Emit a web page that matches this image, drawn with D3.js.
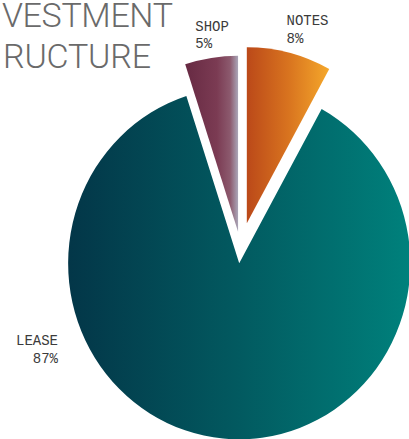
<!DOCTYPE html>
<html>
<head>
<meta charset="utf-8">
<script src="https://cdn.jsdelivr.net/npm/d3@7"></script>
<style>
  html, body { margin: 0; padding: 0; background: #ffffff; overflow: hidden; }
  svg { display: block; }
</style>
</head>
<body>
<svg id="chart" width="409" height="439"></svg>
<script>
// Investment structure: share of each asset type (percent), clockwise from 12 o'clock
const categories = ["NOTES", "LEASE", "SHOP"];
const shares = [8, 87, 5];
const shareLabels = ["8%", "87%", "5%"];
const titleLines = ["VESTMENT", "RUCTURE"];

// Styling / layout
const gradientStops = {
  NOTES: [[0, "#bb4919"], [0.5, "#d8731f"], [1, "#f5a82b"]],
  LEASE: [[0, "#033648"], [0.5, "#025a60"], [1, "#00817c"]],
  SHOP:  [[0, "#672a43"], [0.6, "#7b3b53"], [0.85, "#8c5a6e"], [1, "#aaa6b8"]]
};
const explode = { NOTES: 25.7, LEASE: 15.2, SHOP: 16.7 };
const labelLayout = {
  NOTES: { x: 286.5, y: 25, anchor: "start" },
  SHOP:  { x: 195.3, y: 30.7, anchor: "start" },
  LEASE: { x: 58, y: 345, anchor: "end" }
};
const titleLayout = [
  { x: 2, y: 26.7, width: 171 },
  { x: 3, y: 68.3, width: 148 }
];
const pieCenter = { x: 240.6, y: 248.2 };
const radius = 176;
const xSquash = 0.972;
const lineGap = 17.5;

const svg = d3.select("#chart");
const defs = svg.append("defs");

const data = categories.map((c, i) => ({ name: c, value: shares[i], label: shareLabels[i] }));

const pie = d3.pie().sort(null).value(d => d.value).startAngle(0).endAngle(2 * Math.PI);
const arc = d3.arc().innerRadius(0).outerRadius(radius);
const arcs = pie(data);

// horizontal gradient per slice, spanning the slice's own bounding box
arcs.forEach(a => {
  const g = defs.append("linearGradient")
    .attr("id", "grad-" + a.data.name)
    .attr("x1", "0%").attr("y1", "0%").attr("x2", "100%").attr("y2", "0%");
  gradientStops[a.data.name].forEach(([o, c]) => {
    g.append("stop").attr("offset", o).attr("stop-color", c);
  });
});

const pieG = svg.append("g")
  .attr("transform", `translate(${pieCenter.x},${pieCenter.y}) scale(${xSquash},1)`);

pieG.selectAll("path.slice")
  .data(arcs)
  .join("path")
  .attr("class", "slice")
  .attr("d", arc)
  .attr("fill", d => `url(#grad-${d.data.name})`)
  .attr("transform", d => {
    const mid = (d.startAngle + d.endAngle) / 2;
    const o = explode[d.data.name];
    return `translate(${Math.sin(mid) * o},${-Math.cos(mid) * o})`;
  });

// slice labels: name over share
const labelG = svg.append("g")
  .attr("font-family", "'Liberation Mono', 'DejaVu Sans Mono', monospace")
  .attr("font-size", 14)
  .attr("fill", "#3b3b3b");

arcs.forEach(a => {
  const L = labelLayout[a.data.name];
  const t = labelG.append("text")
    .attr("text-anchor", L.anchor);
  t.append("tspan").attr("x", L.x).attr("y", L.y).text(a.data.name);
  t.append("tspan").attr("x", L.x).attr("y", L.y + lineGap).text(a.data.label);
});

// title
svg.append("g")
  .attr("font-family", "Roboto, 'Open Sans', Lato, sans-serif")
  .attr("font-weight", 300)
  .attr("font-size", 34)
  .attr("fill", "#6a6a6a")
  .selectAll("text")
  .data(titleLines)
  .join("text")
  .attr("x", (d, i) => titleLayout[i].x)
  .attr("y", (d, i) => titleLayout[i].y)
  .attr("textLength", (d, i) => titleLayout[i].width)
  .attr("lengthAdjust", "spacing")
  .text(d => d);
</script>
</body>
</html>
